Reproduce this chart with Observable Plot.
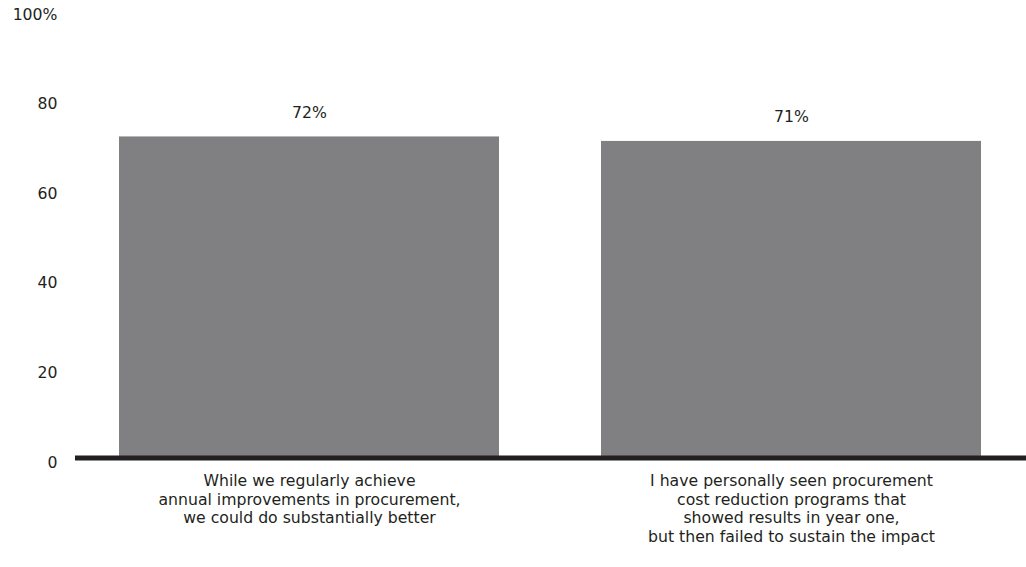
<!DOCTYPE html>
<html>
<head>
<meta charset="utf-8">
<script src="https://cdn.jsdelivr.net/npm/d3@7"></script>
<script src="https://cdn.jsdelivr.net/npm/@observablehq/plot@0.6"></script>
<style>
  html, body { margin: 0; padding: 0; background: #ffffff; }
  #chart svg { display: block; }
</style>
</head>
<body>
<div id="chart"></div>
<script>
const categories = [
  "While we regularly achieve\nannual improvements in procurement,\nwe could do substantially better",
  "I have personally seen procurement\ncost reduction programs that\nshowed results in year one,\nbut then failed to sustain the impact"
];
const values = [72, 71];
const valueLabels = ["72%", "71%"];
const yTicks = [0, 20, 40, 60, 80, 100];

const data = categories.map((c, i) => ({category: c, value: values[i], label: valueLabels[i]}));

const font = "'DejaVu Sans', sans-serif";
const ink = "#231f20";
const fs = 15.7;

const chart = Plot.plot({
  width: 1026,
  height: 567,
  marginLeft: 75,
  marginRight: 0,
  marginTop: 11,
  marginBottom: 108,
  style: {fontFamily: font, fontSize: fs + "px", color: ink, background: "#ffffff"},
  x: {domain: categories, paddingInner: 0.211, paddingOuter: 0.09, label: null},
  y: {domain: [0, 100], label: null},
  marks: [
    Plot.barY(data, {x: "category", y: "value", fill: "#808083"}),
    Plot.ruleY([0], {stroke: ink, strokeWidth: 5, dy: -1.5}),
    Plot.text(data, {x: "category", y: "value", text: "label", dy: -24, fill: ink, fontSize: fs}),
    Plot.axisY({ticks: yTicks, tickSize: 0, tickPadding: 18, dy: 3, fontSize: fs, fill: ink,
      tickFormat: d => d === 100 ? "100%" : String(d)}),
    Plot.axisX({tickSize: 0, tickPadding: 13.5, fontSize: fs, fill: ink, lineHeight: 1.18})
  ]
});
document.getElementById("chart").appendChild(chart);
</script>
</body>
</html>
